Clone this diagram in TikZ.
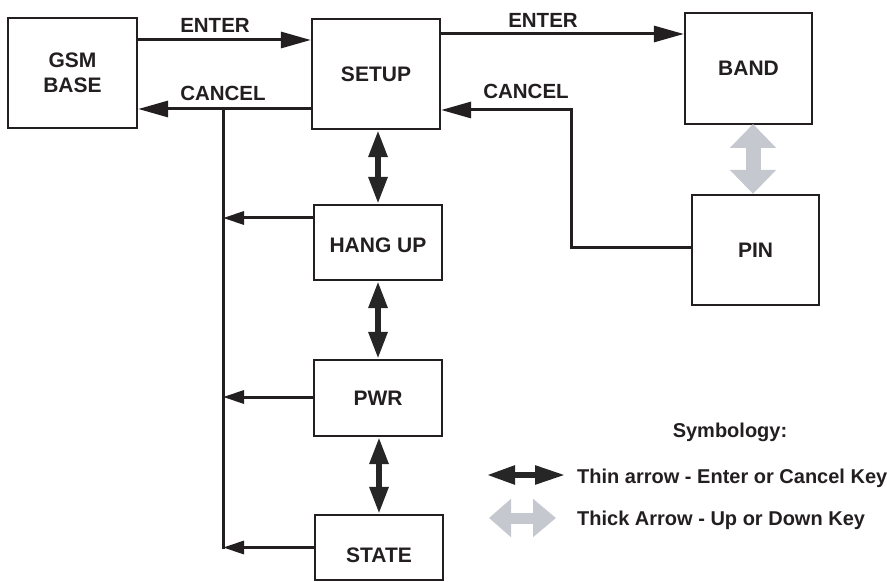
\documentclass[tikz,border=0pt]{standalone}
\usepackage{fontspec}
\setmainfont{Liberation Sans}
\usetikzlibrary{arrows.meta}
\definecolor{ink}{RGB}{35,31,32}
\definecolor{lgray}{RGB}{197,201,207}
\begin{document}
\begin{tikzpicture}[x=1bp,y=-1bp,
  font=\fontsize{21bp}{25bp}\selectfont\bfseries,
  box/.style={draw=ink,line width=2.3bp,text=ink,align=center,inner sep=0pt},
  conn/.style={draw=ink,line width=3bp},
  bigtip/.style={-{Triangle[length=30bp,width=16bp]}},
  smalltip/.style={-{Triangle[length=21bp,width=13bp]}},
  darr/.style={draw=black!85,line width=6bp,{Triangle[length=27bp,width=18bp]}-{Triangle[length=27bp,width=18bp]}},
  garr/.style={draw=lgray,line width=15bp,{Triangle[length=24bp,width=45bp]}-{Triangle[length=24bp,width=45bp]}},
  lbl/.style={text=ink,inner sep=0pt,font=\fontsize{20.5bp}{25bp}\selectfont\bfseries},
  leg/.style={text=ink,inner sep=0pt,font=\fontsize{20bp}{24bp}\selectfont\bfseries}]
\useasboundingbox (0,0) rectangle (887,582);
% boxes
\node[box,minimum width=129bp,minimum height=110bp] (gsm) at (72.5,73) {GSM\\BASE};
\node[box,minimum width=128bp,minimum height=110bp] (setup) at (376,74) {SETUP};
\node[box,minimum width=127bp,minimum height=111bp] (band) at (748.5,68.5) {BAND};
\node[box,minimum width=127bp,minimum height=110bp] (pin) at (755.5,250) {PIN};
\node[box,minimum width=128bp,minimum height=75bp,text height=20bp,text depth=0pt] (hang) at (378,242.5) {HANG UP};
\node[box,minimum width=128bp,minimum height=76bp] (pwr) at (378,398) {PWR};
\node[box,minimum width=128bp,minimum height=65bp,text height=29bp,text depth=0pt] (state) at (379,547.5) {STATE};
% labels
\node[lbl] (l1) at (215,25) {ENTER};
\node[lbl] (l2) at (223,93.5) {CANCEL};
\node[lbl] (l3) at (543,20) {ENTER};
\node[lbl] (l4) at (526,91) {CANCEL};
% top connectors
\coordinate (e1) at (137,40);
\draw[conn,bigtip] (e1) -- (e1 -| setup.west);
\coordinate (c1) at (312,109);
\draw[conn,bigtip] (c1) -- (c1 -| gsm.east);
\coordinate (e2) at (440,34);
\draw[conn,bigtip] (e2) -- (e2 -| band.west);
\coordinate (cx) at (571,110);
\coordinate (pk) at ([yshift=3bp]pin.west);
\draw[conn,bigtip] (pk) -| (cx) -- (cx -| setup.east);
% cancel bus
\coordinate (bus) at (223,109);
\coordinate (busend) at (223,549);
\draw[conn] (bus) -- (busend);
\coordinate (hk) at ([yshift=24.5bp]hang.west);
\draw[conn,smalltip] (hk) -- (hk -| bus);
\coordinate (pk2) at ([yshift=1bp]pwr.west);
\draw[conn,smalltip] (pk2) -- (pk2 -| bus);
\coordinate (sk) at (state.west);
\draw[conn,smalltip] (sk) -- (sk -| bus);
% up/down thin double arrows
\draw[darr] (setup.south -| 378,0) -- (hang.north);
\draw[darr] (hang.south) -- (hang.south |- pwr.north);
\draw[darr] ([xshift=1bp]pwr.south) -- ([xshift=1bp]pwr.south |- state.north);
% thick gray arrow
\coordinate (g1) at (753,124);
\draw[garr] (g1) -- (g1 |- pin.north);
% legend
\node[leg] (sym) at (730,432) {Symbology:};
\coordinate (t1) at (487,475);
\coordinate (t2) at (565,475);
\draw[draw=black!85,line width=5.5bp,{Triangle[length=28bp,width=18bp]}-{Triangle[length=30bp,width=18bp]}] (t1) -- (t2);
\node[leg,anchor=west] (tl) at (577,478) {Thin arrow - Enter or Cancel Key};
\coordinate (k1) at (489,518);
\coordinate (k2) at (556,518);
\draw[draw=lgray,line width=11bp,{Triangle[length=22bp,width=37bp]}-{Triangle[length=23bp,width=37bp]}] (k1) -- (k2);
\node[leg,anchor=west] (kl) at (577,520) {Thick Arrow - Up or Down Key};
\end{tikzpicture}
\end{document}
